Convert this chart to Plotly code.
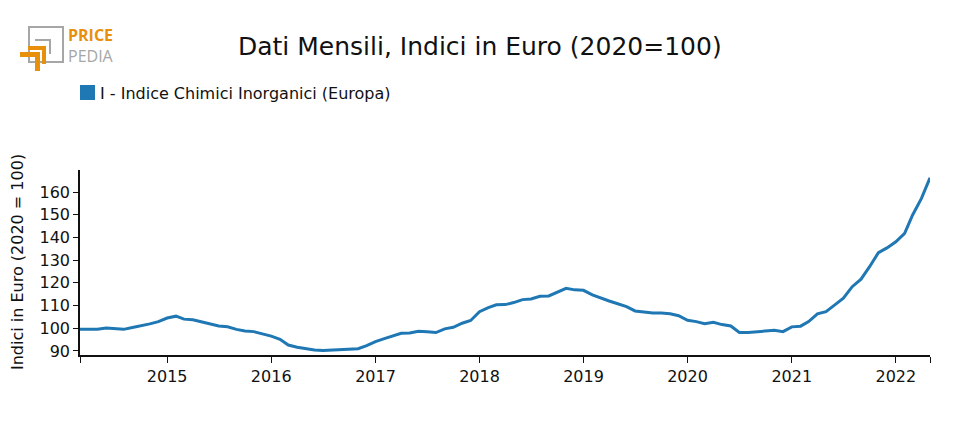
import plotly.graph_objects as go
import pandas as pd

# ---- data ----
start_month = "2014-03-01"
values = [
    # 2014 Mar-Dec
    99.5, 99.5, 99.5, 100.1, 99.7, 99.5, 100.3, 101.0, 101.9, 102.9,
    # 2015
    104.5, 105.3, 104.0, 103.7, 102.8, 101.9, 101.0, 100.6, 99.5, 98.8, 98.5, 97.5,
    # 2016
    96.5, 95.1, 92.6, 91.6, 90.9, 90.4, 90.2, 90.4, 90.9, 90.9, 91.0, 92.3,
    # 2017
    94.1, 95.4, 96.6, 97.8, 97.9, 98.7, 98.4, 98.1, 99.7, 100.4, 102.2, 103.4,
    # 2018
    107.3, 109.1, 110.3, 110.4, 111.3, 112.6, 112.9, 114.1, 114.2, 115.8, 117.6, 116.9,
    # 2019
    116.7, 114.7, 113.3, 112.0, 110.8, 109.5, 107.6, 107.2, 106.7, 106.7, 106.4, 105.5,
    # 2020
    103.5, 102.9, 102.0, 102.6, 101.6, 101.0, 98.1, 98.1, 98.5, 98.9, 99.1, 98.5,
    # 2021
    100.6, 100.9, 102.9, 106.3, 107.3, 110.3, 113.2, 118.3, 121.6, 127.1, 133.3, 135.4,
    # 2022 Jan-May
    138.1, 141.8, 149.9, 157.2, 166.3,
]
dates = pd.date_range(start_month, periods=len(values), freq="MS")

series_name = "I - Indice Chimici Inorganici (Europa)"
title_text = "Dati Mensili, Indici in Euro (2020=100)"
y_title = "Indici in Euro (2020 = 100)"
year_ticks = ["2015", "2016", "2017", "2018", "2019", "2020", "2021", "2022"]
y_ticks = [90, 100, 110, 120, 130, 140, 150, 160]

# ---- layout geometry ----
# the page has an 8px body margin; coordinates below are window pixels
OFF = 8
W, H = 960 - OFF, 430 - OFF
L, R, T, B = 80 - OFF, 30, 170 - OFF, 75
PW, PH = W - L - R, H - T - B


def px(x):
    return (x - OFF - L) / PW


def py(y):
    return (H - B - (y - OFF)) / PH


line_color = "#1f77b4"
orange = "#E8900C"
grey = "#A6A6A6"
txt = "#111111"

fig = go.Figure()
fig.add_trace(go.Scatter(
    x=dates, y=values, mode="lines", name=series_name,
    line=dict(color=line_color, width=3), showlegend=False,
))

x_first = dates[0].strftime("%Y-%m-%d")
x_last = dates[-1].strftime("%Y-%m-%d")
tickvals = [x_first] + [f"{y}-01-01" for y in year_ticks] + [x_last]
ticktext = [""] + year_ticks + [""]

shapes = []
# legend square
shapes.append(dict(type="rect", xref="paper", yref="paper",
                   x0=px(80), x1=px(95), y0=py(100), y1=py(85),
                   fillcolor=line_color, line=dict(width=0)))
# logo: grey square outline
shapes.append(dict(type="rect", xref="paper", yref="paper",
                   x0=px(29), x1=px(63), y0=py(62), y1=py(27),
                   line=dict(color=grey, width=2), fillcolor="rgba(0,0,0,0)"))
# logo: inner grey corner
shapes.append(dict(type="path", xref="paper", yref="paper",
                   path=f"M {px(35)},{py(40)} L {px(50)},{py(40)} L {px(50)},{py(54)}",
                   line=dict(color=grey, width=2)))
# logo: orange chevrons
for (x0, x1, y0, y1) in [(28, 46, 46, 50), (42, 46, 46, 64),
                         (20, 40, 52, 57), (35, 40, 52, 71)]:
    shapes.append(dict(type="rect", xref="paper", yref="paper",
                       x0=px(x0), x1=px(x1), y0=py(y1), y1=py(y0),
                       fillcolor=orange, line=dict(width=0)))

logo_text = (f"<b><span style='color:{orange}'>PRICE</span></b><br>"
             f"<span style='color:{grey}'>PEDIA</span>")

annotations = [
    dict(text=title_text, xref="paper", yref="paper", x=px(480), y=py(47),
         xanchor="center", yanchor="middle", showarrow=False,
         font=dict(family="DejaVu Sans", size=25, color=txt)),
    dict(text=series_name, xref="paper", yref="paper", x=px(98), y=py(93),
         xanchor="left", yanchor="middle", showarrow=False,
         font=dict(family="DejaVu Sans", size=16, color=txt)),
    dict(text=y_title, xref="paper", yref="paper", x=px(17), y=py(262),
         xanchor="center", yanchor="middle", textangle=-90, showarrow=False,
         font=dict(family="DejaVu Sans", size=16, color=txt)),
    dict(text=logo_text, xref="paper", yref="paper", x=px(66), y=py(45),
         xanchor="left", yanchor="middle", align="left", showarrow=False,
         font=dict(family="Open Sans", size=16, color=grey)),
]

fig.update_layout(
    width=W, height=H,
    margin=dict(l=L, r=R, t=T, b=B, pad=0),
    paper_bgcolor="white", plot_bgcolor="white",
    shapes=shapes, annotations=annotations,
    xaxis=dict(range=[x_first, x_last], tickmode="array",
               tickvals=tickvals, ticktext=ticktext,
               showline=True, linecolor=txt, linewidth=1.5,
               ticks="outside", ticklen=6, tickcolor=txt,
               showgrid=False, zeroline=False,
               tickfont=dict(family="DejaVu Sans", size=16, color=txt)),
    yaxis=dict(range=[88.2, 169.7], tickmode="array", tickvals=y_ticks,
               showline=True, linecolor=txt, linewidth=1.5,
               ticks="outside", ticklen=5, tickcolor=txt,
               showgrid=False, zeroline=False,
               tickfont=dict(family="DejaVu Sans", size=16, color=txt)),
)

fig.write_html("out.html")
